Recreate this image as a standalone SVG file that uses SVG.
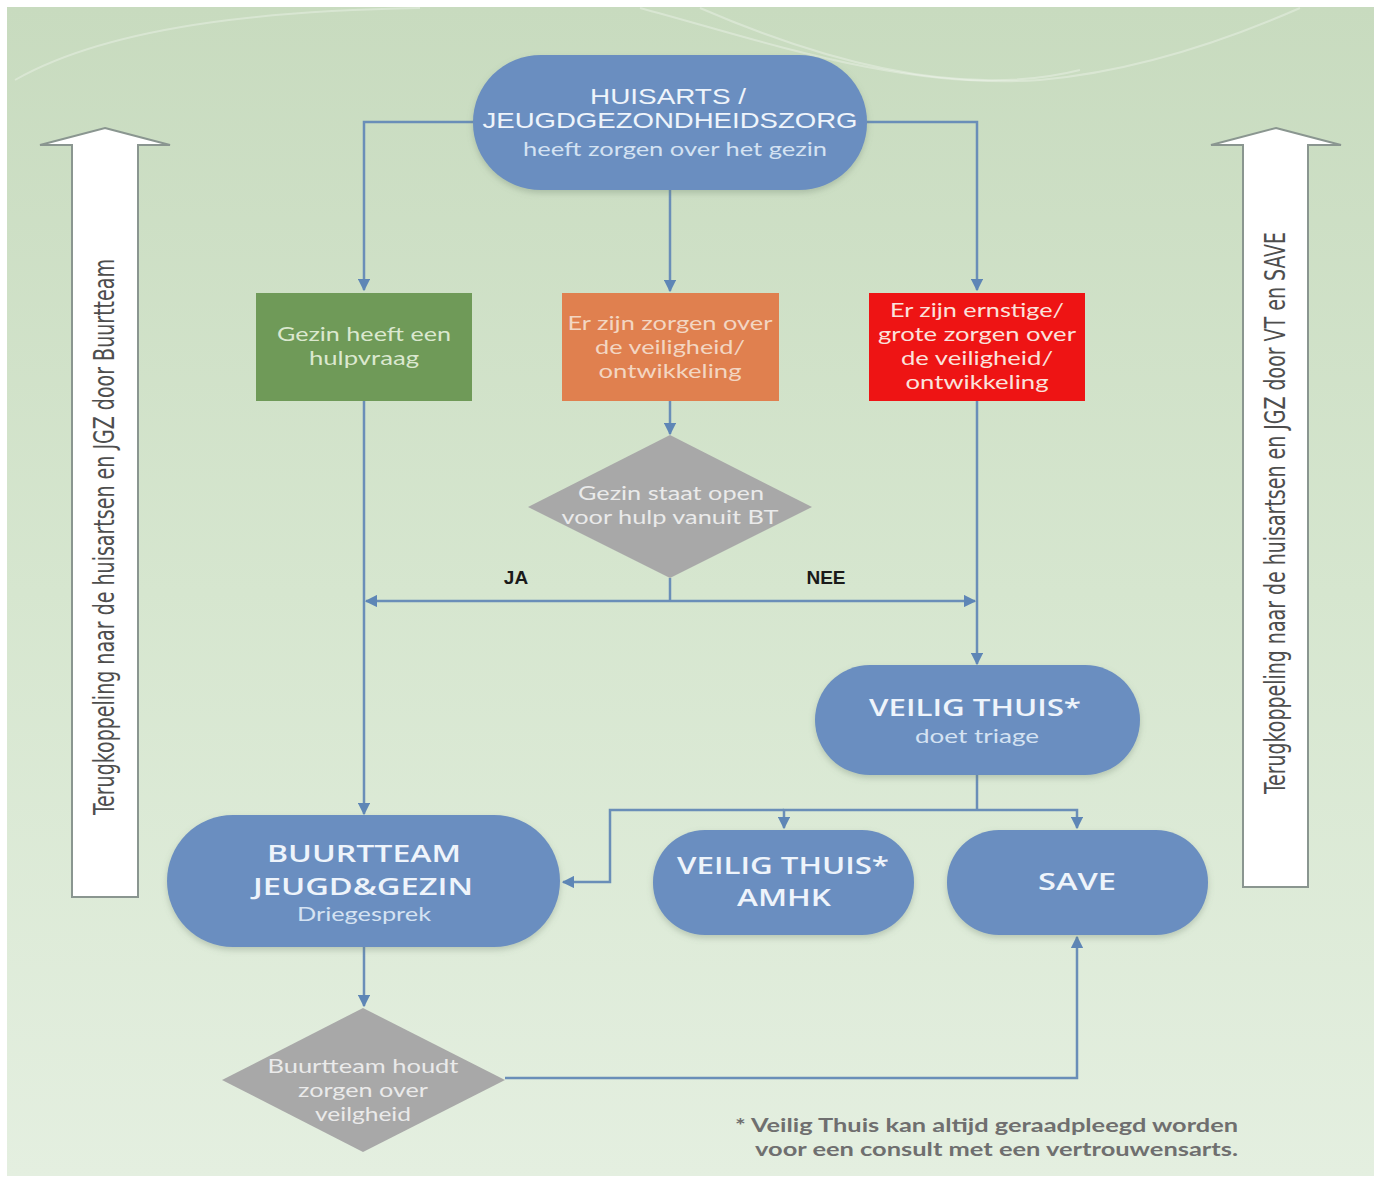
<svg xmlns="http://www.w3.org/2000/svg" width="1380" height="1184" viewBox="0 0 1380 1184">
<defs>
<linearGradient id="bg" x1="0" y1="0" x2="0" y2="1">
<stop offset="0" stop-color="#c8dbbf"/>
<stop offset="0.5" stop-color="#d6e6cf"/>
<stop offset="1" stop-color="#e4efe0"/>
</linearGradient>
<filter id="sh" x="-10%" y="-10%" width="120%" height="130%">
<feDropShadow dx="0" dy="3" stdDeviation="3" flood-color="#6a7f6a" flood-opacity="0.35"/>
</filter>
<marker id="ah" viewBox="0 0 10 10" refX="9" refY="5" markerWidth="5" markerHeight="5" orient="auto" markerUnits="strokeWidth">
<path d="M0,0 L10,5 L0,10 z" fill="#5e86b6"/>
</marker>
<style>
.conn{fill:none;stroke:#6a8eb8;stroke-width:2.5}
.blue{fill:#6a8ec0;filter:url(#sh)}
.t1{font-family:"Liberation Sans",Arial,sans-serif;font-size:22px;fill:#eef4fb;text-anchor:middle}
.t2{font-family:"Lato","Open Sans",sans-serif;font-size:20px;fill:#d4e2f2;text-anchor:middle}
.tb{font-family:"Open Sans","Lato",sans-serif;font-weight:600;font-size:24px;fill:#eef4fb;text-anchor:middle}
.tbox{font-family:"Lato","Open Sans",sans-serif;font-size:20px;text-anchor:middle}
.tdia{font-family:"Lato","Open Sans",sans-serif;font-size:18.5px;fill:#eaeaea;text-anchor:middle}
.lbl{font-family:"Liberation Sans",Arial,sans-serif;font-weight:bold;font-size:19px;fill:#1a1a1a;text-anchor:middle}
.side{font-family:"DejaVu Sans Condensed","DejaVu Sans",sans-serif;font-size:28px;fill:#4e4e4e;text-anchor:middle}
.foot{font-family:"Lato","Open Sans",sans-serif;font-size:19.5px;fill:#6f6f6f;font-weight:bold}
.bigarrow{fill:#ffffff;stroke:#8a9690;stroke-width:2}
</style>
</defs>
<rect x="0" y="0" width="1380" height="1184" fill="#ffffff"/>
<rect x="7" y="7" width="1367" height="1169" fill="url(#bg)"/>
<g fill="none" stroke="#ffffff" stroke-opacity="0.3" stroke-width="2">
<path d="M15,80 C120,20 300,10 420,8"/>
<path d="M640,8 C760,40 900,90 1040,80 C1150,70 1250,30 1300,8"/>
<path d="M700,8 C820,60 960,100 1080,70"/>
</g>

<g id="side-left">
<path class="bigarrow" d="M105,128 L170,145 L138,145 L138,897 L72,897 L72,145 L40,145 Z"/>
<text class="side" transform="translate(114,537) rotate(-90)" textLength="556" lengthAdjust="spacingAndGlyphs">Terugkoppeling naar de huisartsen en JGZ door Buurtteam</text>
</g>
<g id="side-right">
<path class="bigarrow" d="M1276,128 L1341,145 L1308,145 L1308,887 L1243,887 L1243,145 L1211,145 Z"/>
<text class="side" transform="translate(1285,513) rotate(-90)" textLength="562" lengthAdjust="spacingAndGlyphs">Terugkoppeling naar de huisartsen en JGZ door VT en SAVE</text>
</g>

<g id="connectors">
<path class="conn" d="M473,122 L364,122 L364,290" marker-end="url(#ah)"/>
<path class="conn" d="M867,122 L977,122 L977,290" marker-end="url(#ah)"/>
<path class="conn" d="M670,190 L670,291" marker-end="url(#ah)"/>
<path class="conn" d="M670,401 L670,434" marker-end="url(#ah)"/>
<path class="conn" d="M670,578 L670,601"/>
<path class="conn" d="M670,601 L366,601" marker-end="url(#ah)"/>
<path class="conn" d="M670,601 L975,601" marker-end="url(#ah)"/>
<path class="conn" d="M364,401 L364,814" marker-end="url(#ah)"/>
<path class="conn" d="M977,401 L977,664" marker-end="url(#ah)"/>
<path class="conn" d="M977,775 L977,810"/>
<path class="conn" d="M977,810 L784,810 L784,828" marker-end="url(#ah)"/>
<path class="conn" d="M977,810 L1077,810 L1077,828" marker-end="url(#ah)"/>
<path class="conn" d="M784,810 L610,810 L610,882 L563,882" marker-end="url(#ah)"/>
<path class="conn" d="M364,947 L364,1006" marker-end="url(#ah)"/>
<path class="conn" d="M505,1078 L1077,1078 L1077,937" marker-end="url(#ah)"/>
</g>

<g id="huisarts">
<rect class="blue" x="473" y="55" width="394" height="135" rx="68" ry="67"/>
<text class="t1" x="668" y="104" textLength="156" lengthAdjust="spacingAndGlyphs">HUISARTS /</text>
<text class="t1" x="670" y="128" textLength="375" lengthAdjust="spacingAndGlyphs">JEUGDGEZONDHEIDSZORG</text>
<text class="t2" x="675" y="156" textLength="304" lengthAdjust="spacingAndGlyphs">heeft zorgen over het gezin</text>
</g>

<g id="hulpvraag">
<rect x="256" y="293" width="216" height="108" fill="#6f9a58"/>
<text class="tbox" x="364" y="341" fill="#dbe8cf" textLength="174" lengthAdjust="spacingAndGlyphs">Gezin heeft een</text>
<text class="tbox" x="364" y="365" fill="#dbe8cf" textLength="110" lengthAdjust="spacingAndGlyphs">hulpvraag</text>
</g>
<g id="zorgen">
<rect x="562" y="293" width="217" height="108" fill="#e0804f"/>
<text class="tbox" x="670" y="330" fill="#f3d6c2" textLength="205" lengthAdjust="spacingAndGlyphs">Er zijn zorgen over</text>
<text class="tbox" x="670" y="354" fill="#f3d6c2" textLength="150" lengthAdjust="spacingAndGlyphs">de veiligheid/</text>
<text class="tbox" x="670" y="378" fill="#f3d6c2" textLength="143" lengthAdjust="spacingAndGlyphs">ontwikkeling</text>
</g>
<g id="ernstig">
<rect x="869" y="293" width="216" height="108" fill="#ee1414"/>
<text class="tbox" x="977" y="317" fill="#fbe2dc" textLength="174" lengthAdjust="spacingAndGlyphs">Er zijn ernstige/</text>
<text class="tbox" x="977" y="341" fill="#fbe2dc" textLength="198" lengthAdjust="spacingAndGlyphs">grote zorgen over</text>
<text class="tbox" x="977" y="365" fill="#fbe2dc" textLength="152" lengthAdjust="spacingAndGlyphs">de veiligheid/</text>
<text class="tbox" x="977" y="389" fill="#fbe2dc" textLength="143" lengthAdjust="spacingAndGlyphs">ontwikkeling</text>
</g>

<g id="open">
<path d="M670,435 L812,507 L670,578 L528,507 Z" fill="#a8a8a8"/>
<text class="tdia" x="671" y="500" textLength="186" lengthAdjust="spacingAndGlyphs">Gezin staat open</text>
<text class="tdia" x="670" y="524" textLength="217" lengthAdjust="spacingAndGlyphs">voor hulp vanuit BT</text>
</g>
<text class="lbl" x="516" y="584">JA</text>
<text class="lbl" x="826" y="584">NEE</text>

<g id="triage">
<rect class="blue" x="815" y="665" width="325" height="110" rx="55" ry="55"/>
<text class="tb" x="975" y="716" textLength="212" lengthAdjust="spacingAndGlyphs">VEILIG THUIS*</text>
<text class="t2" x="977" y="743" textLength="124" lengthAdjust="spacingAndGlyphs">doet triage</text>
</g>
<g id="buurtteam">
<rect class="blue" x="167" y="815" width="393" height="132" rx="66" ry="66"/>
<text class="tb" x="364" y="862" textLength="194" lengthAdjust="spacingAndGlyphs">BUURTTEAM</text>
<text class="tb" x="363" y="895" textLength="220" lengthAdjust="spacingAndGlyphs">JEUGD&amp;GEZIN</text>
<text class="t2" x="364" y="921" textLength="134" lengthAdjust="spacingAndGlyphs">Driegesprek</text>
</g>
<g id="amhk">
<rect class="blue" x="653" y="830" width="261" height="105" rx="52" ry="52"/>
<text class="tb" x="783" y="874" textLength="212" lengthAdjust="spacingAndGlyphs">VEILIG THUIS*</text>
<text class="tb" x="784" y="906" textLength="94" lengthAdjust="spacingAndGlyphs">AMHK</text>
</g>
<g id="save">
<rect class="blue" x="947" y="830" width="261" height="105" rx="52" ry="52"/>
<text class="tb" x="1077" y="890" textLength="78" lengthAdjust="spacingAndGlyphs">SAVE</text>
</g>

<g id="houdt">
<path d="M363,1008 L505,1080 L363,1152 L222,1080 Z" fill="#a8a8a8"/>
<text class="tdia" x="363" y="1073" textLength="191" lengthAdjust="spacingAndGlyphs">Buurtteam houdt</text>
<text class="tdia" x="363" y="1097" textLength="130" lengthAdjust="spacingAndGlyphs">zorgen over</text>
<text class="tdia" x="363" y="1121" textLength="96" lengthAdjust="spacingAndGlyphs">veilgheid</text>
</g>

<g id="footnote">
<text class="foot" x="735" y="1132" textLength="503" lengthAdjust="spacingAndGlyphs">* Veilig Thuis kan altijd geraadpleegd worden</text>
<text class="foot" x="755" y="1156" textLength="483" lengthAdjust="spacingAndGlyphs">voor een consult met een vertrouwensarts.</text>
</g>
</svg>
